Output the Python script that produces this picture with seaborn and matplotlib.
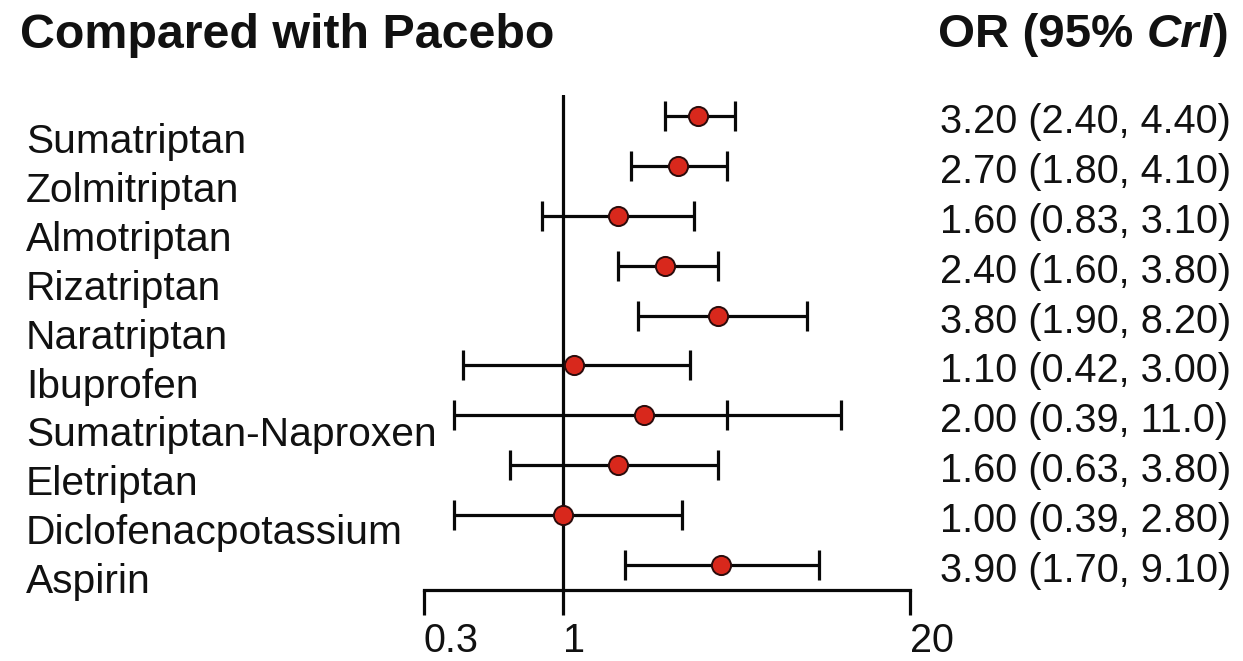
import numpy as np
import matplotlib
matplotlib.use('Agg')
import matplotlib.pyplot as plt
import matplotlib.transforms as mtransforms
import seaborn as sns
import pandas as pd

# 数据：各药物与安慰剂比较的 OR 及 95% CrI
drugs = ['Sumatriptan', 'Zolmitriptan', 'Almotriptan', 'Rizatriptan', 'Naratriptan',
         'Ibuprofen', 'Sumatriptan-Naproxen', 'Eletriptan', 'Diclofenacpotassium', 'Aspirin']
odds = [3.20, 2.70, 1.60, 2.40, 3.80, 1.10, 2.00, 1.60, 1.00, 3.90]
lower = [2.40, 1.80, 0.83, 1.60, 1.90, 0.42, 0.39, 0.63, 0.39, 1.70]
upper = [4.40, 4.10, 3.10, 3.80, 8.20, 3.00, 11.0, 3.80, 2.80, 9.10]
labels_or = ['3.20 (2.40, 4.40)', '2.70 (1.80, 4.10)', '1.60 (0.83, 3.10)',
             '2.40 (1.60, 3.80)', '3.80 (1.90, 8.20)', '1.10 (0.42, 3.00)',
             '2.00 (0.39, 11.0)', '1.60 (0.63, 3.80)', '1.00 (0.39, 2.80)',
             '3.90 (1.70, 9.10)']
# 原图中 Sumatriptan-Naproxen 行多出的一条竖线
extra_row = 'Sumatriptan-Naproxen'
extra_x = 4.1
xticks = [0.3, 1, 20]

df = pd.DataFrame({'drug': drugs, 'OR': odds, 'lo': lower, 'hi': upper})
df['row'] = np.arange(len(df))

sns.set_style('white')
plt.rcParams['font.family'] = ['Liberation Sans', 'DejaVu Sans']

W, H = 1243, 661
fig = plt.figure(figsize=(W / 100, H / 100), dpi=100)
ax = fig.add_axes([424 / W, 1 - 590 / H, (910 - 424) / W, (590 - 95) / H])

ax.set_xscale('log')
ax.set_xlim(0.3, 20)
ax.set_ylim(9.5, -0.42)

# 参考线 OR = 1
ax.axvline(1, color='#080808', lw=2.3, zorder=1)

# 置信区间
ax.errorbar(df['OR'], df['row'],
            xerr=[df['OR'] - df['lo'], df['hi'] - df['OR']],
            fmt='none', ecolor='#080808', elinewidth=2.3, capsize=10.8,
            capthick=2.3, zorder=2)
er = df.loc[df['drug'] == extra_row, 'row'].values[0]
ax.plot([extra_x], [er], marker='|', color='#080808', markersize=22,
        markeredgewidth=2.3, zorder=2)

# 点估计
sns.scatterplot(data=df, x='OR', y='row', ax=ax, color='#d8281c', s=190,
                edgecolor='#2a0c0c', linewidth=1.4, zorder=3, legend=False)

# 坐标轴样式
for s in ['top', 'right', 'left']:
    ax.spines[s].set_visible(False)
ax.spines['bottom'].set_linewidth(2.3)
ax.spines['bottom'].set_color('#080808')
ax.set_yticks([])
ax.set_xticks(xticks)
ax.set_xticklabels(['0.3', '1', '20'])
ax.xaxis.set_minor_locator(matplotlib.ticker.NullLocator())
ax.tick_params(axis='x', direction='out', length=18, width=2.3, color='#080808',
               labelsize=28.5, pad=5, bottom=True, labelcolor='#111111')
for t in ax.get_xticklabels():
    t.set_horizontalalignment('left')
ax.set_xlabel('')
ax.set_ylabel('')

# 左侧药物名称
for i, name in enumerate(df['drug']):
    fig.text(26 / W, 1 - (142 + 48.9 * i) / H, name, ha='left', va='center',
             fontsize=29.3, color='#111111')

# 右侧 OR 文本
trans_l = mtransforms.blended_transform_factory(fig.transFigure, ax.transData)
for txt, r in zip(labels_or, df['row']):
    ax.text(940 / W, r + 0.12, txt, transform=trans_l, ha='left', va='center',
            fontsize=28.6, color='#111111', clip_on=False)

# 标题
fig.text(20 / W, 1 - 35 / H, 'Compared with Pacebo', ha='left', va='center',
         fontsize=34.8, fontweight='bold', color='#111111')
t1 = fig.text(938 / W, 1 - 35 / H, 'OR (95% ', ha='left', va='center',
              fontsize=34.2, fontweight='bold', color='#111111')
t2 = ax.annotate('CrI', xy=(1, 0), xycoords=t1, ha='left', va='bottom',
                 fontsize=34.2, fontweight='bold', fontstyle='italic', color='#111111',
                 annotation_clip=False)
ax.annotate(')', xy=(1, 0), xycoords=t2, ha='left', va='bottom',
            fontsize=34.2, fontweight='bold', color='#111111', annotation_clip=False)

fig.savefig('out.png', dpi=100)
